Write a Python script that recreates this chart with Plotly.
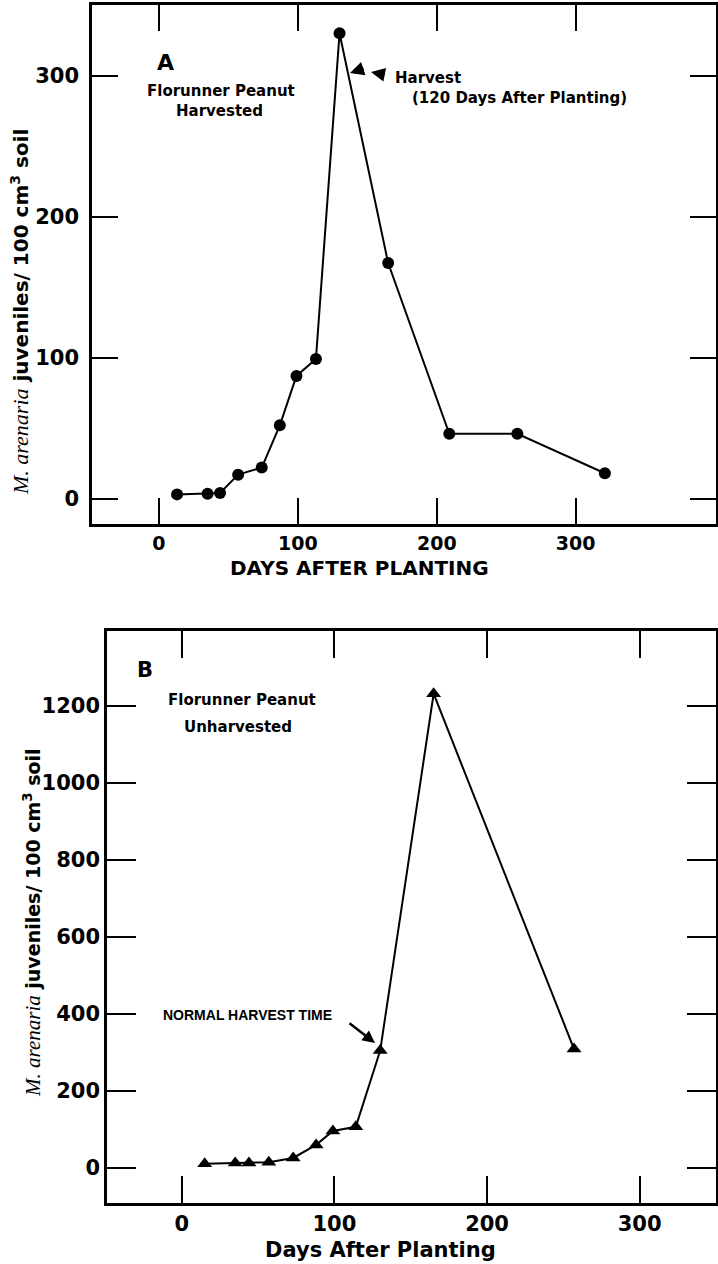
import plotly.graph_objects as go

W, H = 718, 1264

# ---- data ----
days_a = [13, 35, 44, 57, 74, 87, 99, 113, 130, 165, 209, 258, 321]
juv_a = [3, 3.5, 4, 17, 22, 52, 87, 99, 330, 167, 46, 46, 18]

days_b = [15, 35, 44, 57, 73, 88, 99, 114, 130, 165, 257]
juv_b = [11, 13, 13, 15, 26, 60, 96, 107, 305, 1232, 309]

xticks_a = [0, 100, 200, 300]
yticks_a = [0, 100, 200, 300]
xticks_b = [0, 100, 200, 300]
yticks_b = [0, 200, 400, 600, 800, 1000, 1200]


def px(x):
    return x / W


def py(y):
    return 1 - y / H


BOLD = "DejaVu Sans"
fig = go.Figure()

fig.add_trace(go.Scatter(
    x=days_a, y=juv_a, mode="lines+markers",
    line=dict(color="black", width=2),
    marker=dict(symbol="circle", size=12, color="black"),
    xaxis="x", yaxis="y", showlegend=False))

fig.add_trace(go.Scatter(
    x=days_b, y=juv_b, mode="lines+markers",
    line=dict(color="black", width=2),
    marker=dict(symbol="triangle-up", size=13, color="black"),
    xaxis="x2", yaxis="y2", showlegend=False))

axis_common = dict(
    showgrid=False, zeroline=False, showline=True, linecolor="black",
    linewidth=2.5, mirror="ticks", ticks="inside", tickwidth=2,
    tickcolor="black",
)

fig.update_layout(
    width=W, height=H,
    margin=dict(l=0, r=0, t=0, b=0),
    paper_bgcolor="white", plot_bgcolor="white",
    xaxis=dict(domain=[px(92), px(716)], range=[-48.2, 401],
               tickvals=xticks_a, ticklen=26,
               tickfont=dict(family=BOLD, size=19, color="black", weight="bold"),
               anchor="y", **axis_common),
    yaxis=dict(domain=[py(524), py(5)], range=[-18, 350],
               tickvals=yticks_a, ticklen=26, ticklabelstandoff=6,
               tickfont=dict(family=BOLD, size=21, color="black", weight="bold"),
               anchor="x", **axis_common),
    xaxis2=dict(domain=[px(107), px(716)], range=[-49, 350],
                tickvals=xticks_b, ticklen=27,
                tickfont=dict(family=BOLD, size=21, color="black", weight="bold"),
                anchor="y2", **axis_common),
    yaxis2=dict(domain=[py(1203), py(631)], range=[-91, 1395],
                tickvals=yticks_b, ticklen=29,
                tickfont=dict(family=BOLD, size=21, color="black", weight="bold"),
                anchor="x2", **axis_common),
)


def text(x, y, s, size, family=BOLD, xanchor="center", bold=True, angle=0):
    fig.add_annotation(
        x=px(x), y=py(y), xref="paper", yref="paper", text=s,
        showarrow=False, xanchor=xanchor, yanchor="middle", textangle=angle,
        font=dict(family=family, size=size, color="black",
                  weight="bold" if bold else "normal"))


def arrow(x_head, y_head, x_tail, y_tail, width=3, size=0.8):
    fig.add_annotation(
        x=px(x_head), y=py(y_head), xref="paper", yref="paper",
        ax=x_tail - x_head, ay=y_tail - y_head, axref="pixel", ayref="pixel",
        text="", showarrow=True, arrowhead=2, arrowsize=size,
        arrowwidth=width, arrowcolor="black")


# axis titles
text(359, 568, "DAYS AFTER PLANTING", 20)
text(380, 1250, "Days After Planting", 21)

ytitle_a = ('<span style="font-family:Liberation Serif;font-style:italic;font-weight:normal;font-size:22px">M. arenaria</span>'
            ' juveniles/ 100 cm<sup>3</sup> soil')
ytitle_b = ('<span style="font-family:Liberation Serif;font-style:italic;font-weight:normal;font-size:21px">M. arenaria</span>'
            ' juveniles/ 100 cm<sup>3</sup> soil')
text(20, 312, ytitle_a, 20, angle=-90)
text(32, 923, ytitle_b, 19, angle=-90)

# panel A labels
text(165, 62, "A", 22)
text(221, 91, "Florunner Peanut", 15)
text(219, 111, "Harvested", 15)
text(393, 78, "Harvest", 15, xanchor="left")
text(410, 98, "(120 Days After Planting)", 15, xanchor="left")
arrow(350, 73, 365, 68, width=3.5)
arrow(371, 72, 386, 75, width=3.5)

# panel B labels
text(145, 670, "B", 21)
text(242, 700, "Florunner Peanut", 15)
text(238, 727, "Unharvested", 15)
text(161, 1015, "NORMAL HARVEST TIME", 14, family="Liberation Sans", xanchor="left")
arrow(375, 1043, 348, 1022, width=2.5, size=1)

fig.write_html("out.html")
